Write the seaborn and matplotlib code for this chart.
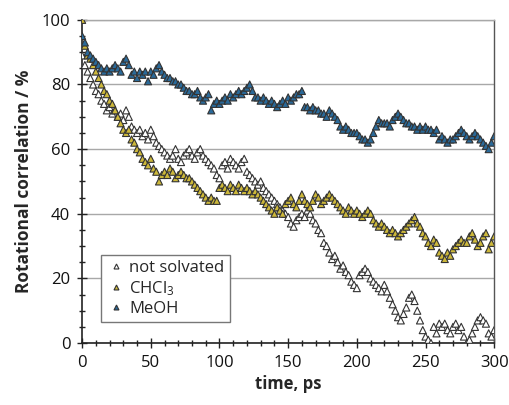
import numpy as np
import pandas as pd
import matplotlib
matplotlib.use("Agg")
import matplotlib.pyplot as plt
from matplotlib.ticker import MultipleLocator
import seaborn as sns

# time axis: every 2 ps from 0 to 300
time_ps = list(range(0, 301, 2))

not_solvated = [
    89, 86, 84, 82, 80, 78, 77, 75, 74, 72,
    73, 71, 72, 70, 71, 69, 72, 70, 67, 66,
    65, 66, 64, 65, 63, 66, 64, 62, 61, 60,
    59, 58, 57, 58, 60, 57, 56, 58, 59, 60,
    58, 57, 59, 60, 58, 57, 56, 55, 54, 52,
    51, 55, 56, 54, 57, 56, 55, 54, 56, 57,
    53, 52, 51, 50, 49, 50, 48, 47, 46, 45,
    44, 43, 42, 41, 40, 39, 37, 36, 38, 39,
    40, 39, 41, 40, 38, 37, 35, 34, 31, 30,
    28, 26, 27, 25, 23, 24, 22, 21, 19, 18,
    17, 21, 22, 23, 22, 20, 19, 18, 17, 16,
    18, 16, 14, 12, 10, 8, 7, 9, 11, 14,
    15, 13, 10, 7, 4, 2, 1, 0, 5, 3,
    6, 5, 6, 4, 3, 5, 6, 4, 5, 2,
    0, 1, 3, 5, 7, 8, 7, 6, 3, 2,
    4,
]

chcl3 = [
    100, 92, 89, 88, 86, 84, 82, 80, 78, 77,
    75, 74, 72, 70, 68, 66, 65, 66, 63, 62,
    60, 59, 57, 56, 55, 57, 54, 53, 50, 52,
    53, 52, 54, 53, 51, 52, 53, 52, 51, 51,
    50, 49, 48, 47, 46, 45, 44, 45, 44, 44,
    48, 49, 48, 47, 49, 48, 47, 49, 48, 47,
    48, 47, 46, 47, 46, 45, 44, 43, 42, 41,
    40, 42, 41, 40, 43, 44, 45, 43, 42, 44,
    46, 44, 43, 42, 44, 46, 45, 43, 44, 45,
    46, 45, 44, 43, 42, 41, 40, 42, 41, 40,
    41, 40, 39, 40, 41, 40, 38, 37, 36, 37,
    36, 35, 34, 35, 34, 33, 34, 35, 36, 37,
    38, 39, 37, 36, 34, 33, 31, 30, 32, 31,
    28, 27, 26, 28, 27, 29, 30, 31, 32, 31,
    31, 33, 34, 32, 30, 31, 33, 34, 29, 31,
    33,
]

meoh = [
    95, 93, 90, 89, 88, 87, 86, 85, 84, 85,
    84, 85, 86, 85, 84, 87, 88, 86, 83, 84,
    82, 84, 83, 84, 81, 84, 83, 85, 86, 84,
    83, 82, 82, 81, 81, 80, 80, 79, 78, 78,
    77, 77, 78, 76, 75, 76, 77, 72, 74, 75,
    74, 75, 76, 75, 77, 76, 77, 78, 77, 78,
    79, 80, 78, 76, 76, 75, 76, 75, 74, 75,
    74, 73, 74, 75, 74, 76, 75, 76, 77, 77,
    78, 73, 73, 72, 73, 72, 72, 71, 71, 70,
    72, 71, 70, 69, 67, 66, 67, 66, 65, 65,
    65, 64, 63, 63, 62, 63, 65, 67, 69, 68,
    68, 68, 67, 69, 70, 71, 70, 69, 68, 68,
    67, 67, 66, 67, 66, 67, 66, 66, 65, 66,
    63, 64, 63, 62, 63, 63, 64, 65, 66, 65,
    64, 63, 64, 65, 64, 63, 62, 61, 60, 62,
    64,
]

series_names = ["not solvated", "CHCl$_3$", "MeOH"]
series_colors = ["#ffffff", "#cdb83a", "#2a6a9a"]
y_ticks = [0, 20, 40, 60, 80, 100]
x_ticks = [0, 50, 100, 150, 200, 250, 300]

df = pd.DataFrame({
    "time": time_ps * 3,
    "value": not_solvated + chcl3 + meoh,
    "series": [series_names[0]] * len(time_ps)
              + [series_names[1]] * len(time_ps)
              + [series_names[2]] * len(time_ps),
})

sns.set_style("white")
plt.rcParams["font.family"] = ["Open Sans", "DejaVu Sans"]
plt.rcParams["mathtext.default"] = "regular"

fig = plt.figure(figsize=(5.10, 4.05), dpi=100)
ax = fig.add_axes([0.161, 0.153, 0.808, 0.798])

sns.scatterplot(data=df, x="time", y="value", hue="series",
                hue_order=series_names, palette=series_colors,
                marker="^", s=26, edgecolor="#333333", linewidth=0.8,
                ax=ax, zorder=3)

ax.set_xlim(0, 300)
ax.set_ylim(0, 100)
ax.set_xticks(x_ticks)
ax.set_yticks(y_ticks)
ax.xaxis.set_minor_locator(MultipleLocator(10))
ax.yaxis.set_minor_locator(MultipleLocator(5))
ax.tick_params(axis="both", which="major", direction="inout", length=7,
               width=1, color="#222222", labelsize=12, labelcolor="#111111",
               pad=5)
ax.tick_params(axis="both", which="minor", direction="inout", length=4,
               width=1, color="#222222")
ax.tick_params(axis="x", which="both", bottom=True)
ax.tick_params(axis="y", which="both", left=True)

ax.yaxis.grid(True, color="#a8a8a8", linewidth=1)
ax.set_axisbelow(True)

for side in ["left", "bottom"]:
    ax.spines[side].set_color("#222222")
    ax.spines[side].set_linewidth(1.2)
ax.spines["right"].set_color("#555555")
ax.spines["right"].set_linewidth(1.0)
ax.spines["top"].set_color("#a8a8a8")
ax.spines["top"].set_linewidth(1.0)

ax.set_xlabel("time, ps", fontsize=12, fontweight="bold", labelpad=3)
ax.set_ylabel("Rotational correlation / %", fontsize=12.5, fontweight="bold",
              labelpad=6)

leg = ax.legend(loc="lower left", bbox_to_anchor=(0.046, 0.065),
                fontsize=12, frameon=True, fancybox=False,
                edgecolor="#777777", framealpha=1, markerscale=0.7,
                handletextpad=0.2, borderpad=0.3, labelspacing=0.2,
                handlelength=1.2, borderaxespad=0)
leg.get_frame().set_linewidth(1.0)

fig.savefig("out.png", dpi=100)
